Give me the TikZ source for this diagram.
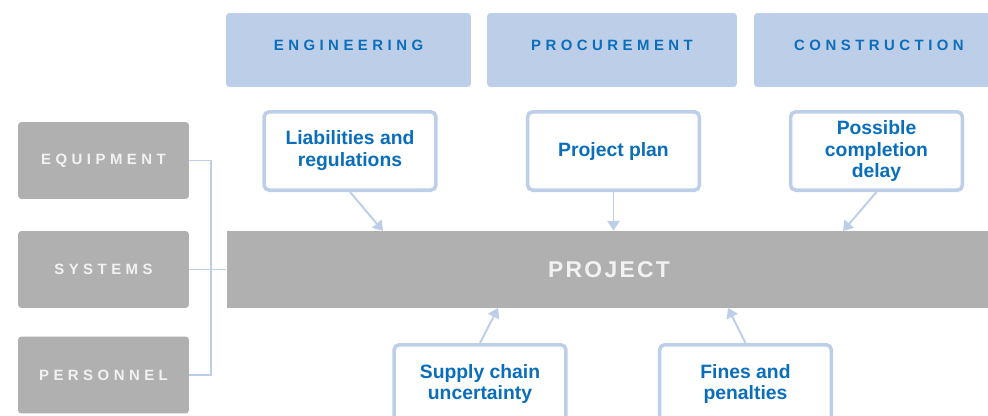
\documentclass[tikz,border=0pt]{standalone}
\usepackage{fontspec}
\setmainfont{Liberation Sans}
\newfontfamily\capsfont[LetterSpace=30]{Liberation Sans}
\newfontfamily\projfont[LetterSpace=10]{Liberation Sans}
\usetikzlibrary{arrows.meta}
\definecolor{paleblue}{HTML}{BDCEE8}
\definecolor{inkblue}{HTML}{0A6EBB}
\definecolor{boxgray}{HTML}{B0B0B0}
\definecolor{chalk}{HTML}{F2F2F2}

\begin{document}
\begin{tikzpicture}
  [x=0.02cm,y=-0.02cm,
   phase/.style={fill=paleblue,rounded corners=2pt,minimum width=5cm,minimum height=1.48cm,
     text depth=5pt,text=inkblue,font=\capsfont\bfseries\fontsize{8.5}{10}\selectfont},
   asset/.style={fill=boxgray,rounded corners=2pt,minimum width=3.42cm,minimum height=1.54cm,
     text=chalk,font=\capsfont\bfseries\fontsize{8.5}{10}\selectfont},
   risk/.style={draw=paleblue,line width=2pt,fill=white,rounded corners=3pt,
     minimum width=3.44cm,minimum height=1.57cm,align=center,text=inkblue,
     font=\bfseries\fontsize{11}{12.5}\selectfont},
   wire/.style={draw=paleblue,line width=1.1pt},
   arr/.style={wire,-{Triangle[length=5.5pt,width=7pt]}}]

  \useasboundingbox (0,0) rectangle (988,416);

  % phases
  \node[phase,minimum width=4.9cm] (eng) at (348.5,50) {ENGINEERING};
  \node[phase] (proc) at (612,50) {PROCUREMENT};
  \node[phase] (cons) at (879,50) {CONSTRUCTION};

  % assets
  \node[asset] (equip) at (103.5,160.5) {EQUIPMENT};
  \node[asset] (sys) at (103.5,269.5) {SYSTEMS};
  \node[asset] (pers) at (103.5,375) {PERSONNEL};

  \node[fill=boxgray,minimum width=15.3cm,minimum height=1.54cm,text=chalk,
    font=\projfont\bfseries\fontsize{13}{15}\selectfont] (proj) at (609,269.5) {PROJECT};

  % risks
  \node[risk] (liab) at (350,151) {Liabilities and\\regulations};
  \node[risk] (plan) at (613.5,151) {Project plan};
  \node[risk] (delay) at (876.5,151) {Possible\\completion\\delay};
  \node[risk] (supply) at (480,384) {Supply chain\\uncertainty};
  \node[risk] (fines) at (745.5,384) {Fines and\\penalties};

  \coordinate (t1) at (383,231);
  \coordinate (t3) at (843,231);
  \coordinate (b1) at (498,308);
  \coordinate (b2) at (728,308);
  \coordinate (bus) at (211,269.5);

  \foreach \from/\to in {liab/t1,delay/t3}
    \draw[arr] (\from.south) -- (\to);
  \draw[arr] (plan.south) -- (plan.south |- proj.north);
  \foreach \from/\to in {supply/b1,fines/b2}
    \draw[arr] (\from.north) -- (\to);

  \draw[wire] (equip.east) -| (bus) |- (pers.east);
  \draw[wire] (sys.east) -- (proj.west);
\end{tikzpicture}
\end{document}
